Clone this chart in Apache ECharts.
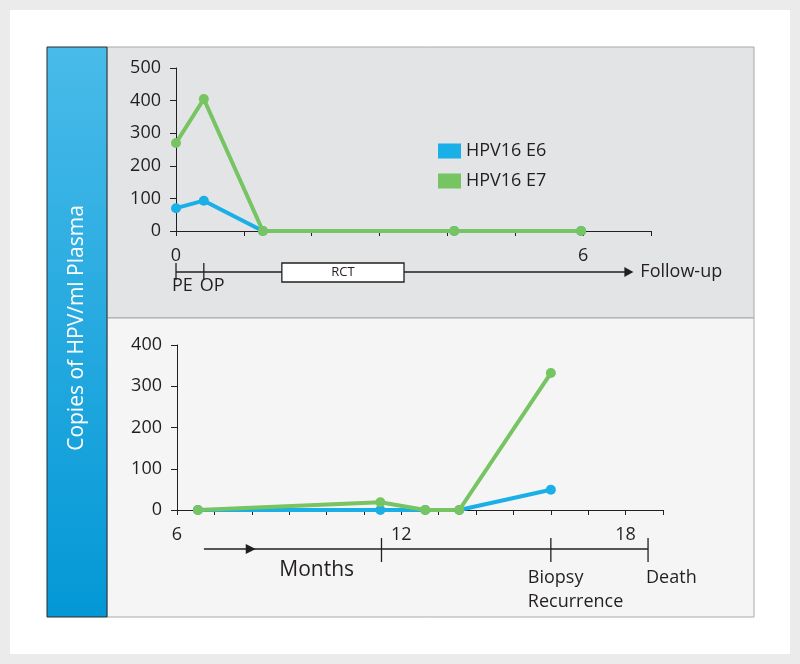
<!DOCTYPE html>
<html>
<head>
<meta charset="utf-8">
<script src="https://cdn.jsdelivr.net/npm/echarts@6/dist/echarts.min.js"></script>
<style>html,body{margin:0;padding:0;background:#ebebeb;}#c{width:800px;height:664px;}</style>
</head>
<body>
<div id="c"></div>
<script>
// ---- data ----
const seriesNames = ['HPV16 E6', 'HPV16 E7'];
const topMonths = [0, 0.41, 1.28, 4.1, 5.97];
const topE6 = [70, 93, 0, 0, 0];
const topE7 = [270, 405, 0, 0, 0];
const bottomMonths = [6.56, 11.44, 12.64, 13.55, 16.0];
const bottomE6 = [0, 0, 0, 0, 49];
const bottomE7 = [0, 19, 0, 0, 332];
const topXLabels = [0, 6];
const bottomXLabels = [6, 12, 18];
const topEvents = [{ t: 0, label: 'PE' }, { t: 0.41, label: 'OP' }];
const rctSpan = [1.56, 3.36];
const topArrowEnd = 6.74;
const bottomTimeline = { start: 6.72, arrow: 8.0, end: 18.6 };
const bottomEvents = [{ t: 11.47, label: '' }, { t: 16.0, label: 'Biopsy\nRecurrence' }, { t: 18.6, label: 'Death' }];

const BLUE = '#1aafe6', GREEN = '#76c462', INK = '#231f20';
const FONT = 'Open Sans';

const zip = (xs, ys) => xs.map((x, i) => [x, ys[i]]);

const chart = echarts.init(document.getElementById('c'));

function xAxisOpt(gi, min, max, shown) {
  return {
    type: 'value', gridIndex: gi, min: min, max: max, interval: 1,
    axisLine: { onZero: false, lineStyle: { color: INK, width: 1 } },
    axisTick: { length: 5, lineStyle: { color: INK } },
    splitLine: { show: false },
    axisLabel: { margin: 16, fontSize: 18, fontFamily: FONT, color: INK,
      formatter: v => shown.includes(v) ? String(v) : '' }
  };
}
function yAxisOpt(gi, max) {
  return {
    type: 'value', gridIndex: gi, min: 0, max: max, interval: 100,
    axisLine: { show: true, onZero: false, lineStyle: { color: INK, width: 1 } },
    axisTick: { show: true, length: 6, lineStyle: { color: INK } },
    splitLine: { show: false },
    axisLabel: { margin: 15, fontSize: 18, fontFamily: FONT, color: INK }
  };
}
function lineSeries(name, color, data, xi, z) {
  return {
    type: 'line', name: name, xAxisIndex: xi, yAxisIndex: xi, data: data,
    symbol: 'circle', symbolSize: 10, z: z,
    itemStyle: { color: color }, lineStyle: { color: color, width: 4 },
    animation: false
  };
}

chart.setOption({
  backgroundColor: '#ebebeb',
  animation: false,
  grid: [
    { left: 176, right: 149, top: 68, height: 163 },
    { left: 177, right: 137, top: 345, height: 165 }
  ],
  xAxis: [xAxisOpt(0, 0, 7, topXLabels), xAxisOpt(1, 6, 19, bottomXLabels)],
  yAxis: [yAxisOpt(0, 500), yAxisOpt(1, 400)],
  legend: {
    orient: 'vertical', left: 433, top: 137, icon: 'rect', itemWidth: 23, itemHeight: 15,
    itemGap: 12, itemTextGap: 8, data: seriesNames,
    textStyle: { fontSize: 18, fontFamily: FONT, color: INK }
  },
  series: [
    lineSeries(seriesNames[0], BLUE, zip(topMonths, topE6), 0, 2),
    lineSeries(seriesNames[1], GREEN, zip(topMonths, topE7), 0, 3),
    lineSeries(seriesNames[0], BLUE, zip(bottomMonths, bottomE6), 1, 2),
    lineSeries(seriesNames[1], GREEN, zip(bottomMonths, bottomE7), 1, 3)
  ]
});

// ---- annotations positioned through the axis scales ----
const px0 = t => chart.convertToPixel({ xAxisIndex: 0 }, t);
const px1 = t => chart.convertToPixel({ xAxisIndex: 1 }, t);
const ls = { stroke: INK, lineWidth: 1.3 };
const txt = (x, y, s, size, align, extra) => Object.assign({
  type: 'text', x: x, y: y,
  style: { text: s, fontSize: size, fontFamily: FONT, fill: INK, align: align || 'left', verticalAlign: 'middle', lineHeight: 24 }
}, extra || {});
const line = (x1, y1, x2, y2) => ({ type: 'line', shape: { x1, y1, x2, y2 }, style: ls });

const g = [];
// backgrounds
g.push({ type: 'rect', z: -100, shape: { x: 10, y: 10, width: 780, height: 644 }, style: { fill: '#ffffff' } });
g.push({ type: 'rect', z: -99, shape: { x: 107, y: 47, width: 647, height: 271 }, style: { fill: '#e3e4e5', stroke: '#a9a9a9', lineWidth: 1 } });
g.push({ type: 'rect', z: -99, shape: { x: 107, y: 318, width: 647, height: 299 }, style: { fill: '#f5f5f5', stroke: '#a9a9a9', lineWidth: 1 } });
g.push({ type: 'rect', z: -98, shape: { x: 47, y: 47, width: 60, height: 570 },
  style: { fill: new echarts.graphic.LinearGradient(0, 0, 0, 1, [{ offset: 0, color: '#48bbe9' }, { offset: 1, color: '#0398d6' }]), stroke: '#2a2a2a', lineWidth: 1 } });
g.push({ type: 'text', x: 77, y: 328, rotation: Math.PI / 2,
  style: { text: 'Copies of HPV/ml Plasma', fontSize: 21, fontFamily: FONT, fill: '#ffffff', align: 'center', verticalAlign: 'middle' } });

// top timeline
const tY = 272;
g.push(line(px0(0), tY, px0(topArrowEnd) - 8, tY));
g.push({ type: 'polygon', shape: { points: [[px0(topArrowEnd) - 9, tY - 5], [px0(topArrowEnd), tY], [px0(topArrowEnd) - 9, tY + 5]] }, style: { fill: INK } });
g.push(txt(px0(topArrowEnd) + 7, tY, 'Follow-up', 18));
topEvents.forEach(e => {
  g.push(line(px0(e.t), tY - 9, px0(e.t), tY + 8));
  g.push(txt(px0(e.t) - 4, tY + 14, e.label, 18));
});
g.push({ type: 'rect', shape: { x: px0(rctSpan[0]), y: tY - 9, width: px0(rctSpan[1]) - px0(rctSpan[0]), height: 19 }, style: { fill: '#ffffff', stroke: INK, lineWidth: 1.3 } });
g.push(txt((px0(rctSpan[0]) + px0(rctSpan[1])) / 2, tY + 0.5, 'RCT', 13, 'center'));

// bottom timeline
const bY = 549;
g.push(line(px1(bottomTimeline.start), bY, px1(bottomTimeline.end), bY));
const ax = px1(bottomTimeline.arrow);
g.push({ type: 'polygon', shape: { points: [[ax - 6, bY - 5], [ax + 4, bY], [ax - 6, bY + 5]] }, style: { fill: INK } });
g.push(txt((ax + px1(bottomEvents[0].t)) / 2, bY + 21, 'Months', 21, 'center'));
bottomEvents.forEach(e => {
  g.push(line(px1(e.t), bY - 11, px1(e.t), bY + 13));
  if (e.label) {
    const lines = e.label.split('\n');
    lines.forEach((s, i) => g.push(txt(px1(e.t) - 23 + (lines.length === 1 ? 21 : 0), bY + 29 + i * 24, s, 18)));
  }
});

chart.setOption({ graphic: g });
</script>
</body>
</html>
